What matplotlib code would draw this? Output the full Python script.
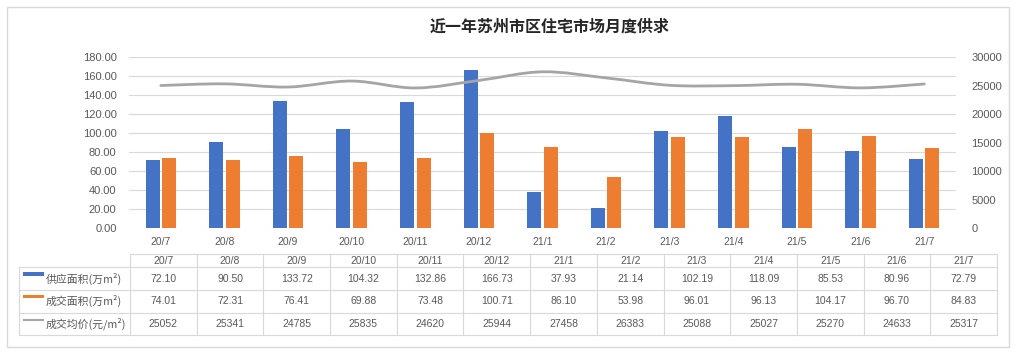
import matplotlib
matplotlib.use("Agg")
import matplotlib.pyplot as plt
import numpy as np
from matplotlib.path import Path
from matplotlib.patches import PathPatch, Rectangle
from matplotlib.ticker import FuncFormatter

plt.rcParams['font.family'] = ['Noto Sans CJK SC', 'DejaVu Sans']

# ---------------- data ----------------
months = ["20/7", "20/8", "20/9", "20/10", "20/11", "20/12",
          "21/1", "21/2", "21/3", "21/4", "21/5", "21/6", "21/7"]
supply = [72.10, 90.50, 133.72, 104.32, 132.86, 166.73,
          37.93, 21.14, 102.19, 118.09, 85.53, 80.96, 72.79]
deal = [74.01, 72.31, 76.41, 69.88, 73.48, 100.71,
        86.10, 53.98, 96.01, 96.13, 104.17, 96.70, 84.83]
price = [25052, 25341, 24785, 25835, 24620, 25944,
         27458, 26383, 25088, 25027, 25270, 24633, 25317]
series_names = ["供应面积(万m²)", "成交面积(万m²)", "成交均价(元/m²)"]
title = "近一年苏州市区住宅市场月度供求"

BLUE = "#4472C4"
ORANGE = "#ED7D31"
GRAY = "#A5A5A5"
TXT = "#595959"
GRID = "#D9D9D9"
NUMFONT = ['Liberation Sans', 'DejaVu Sans']
CJKFONT = ['Noto Sans CJK SC', 'DejaVu Sans']

W, H = 1017, 352
fig = plt.figure(figsize=(W / 100, H / 100), dpi=100)

# overlay axes in pixel coordinates for border / table / title
ov = fig.add_axes([0, 0, 1, 1], zorder=0)
ov.set_xlim(0, W)
ov.set_ylim(H, 0)
ov.axis("off")
ov.add_patch(Rectangle((7, 7), 1002, 340, fill=False, edgecolor=GRID, lw=1.0))

def px_axes(l, r, t, b):
    return [l / W, (H - b) / H, (r - l) / W, (b - t) / H]

# ---------------- main chart ----------------
ax = fig.add_axes(px_axes(129, 956, 57.3, 228.3), zorder=1)
ax.patch.set_alpha(0)
x = np.arange(len(months))
bw = 0.22
off = 0.13
ax.bar(x - off, supply, width=bw, color=BLUE, zorder=2)
ax.bar(x + off, deal, width=bw, color=ORANGE, zorder=2)
ax.set_xlim(-0.5, len(months) - 0.5)
ax.set_ylim(0, 180)
ax.set_yticks(np.arange(0, 181, 20))
ax.yaxis.set_major_formatter(FuncFormatter(lambda v, p: f"{v:.2f}"))
ax.set_xticks(x)
ax.set_xticklabels(months)
ax.grid(axis="y", color=GRID, lw=0.8, zorder=0)
ax.set_axisbelow(True)
for s in ax.spines.values():
    s.set_visible(False)
ax.tick_params(axis="both", length=0, colors=TXT)
ax.tick_params(axis="y", pad=9, labelsize=8)
ax.tick_params(axis="x", pad=6, labelsize=7.5)
for lab in ax.get_yticklabels() + ax.get_xticklabels():
    lab.set_family(NUMFONT)

ax2 = ax.twinx()
ax2.set_ylim(0, 30000)
ax2.set_yticks(np.arange(0, 30001, 5000))
for s in ax2.spines.values():
    s.set_visible(False)
ax2.tick_params(axis="y", length=0, colors=TXT, pad=11, labelsize=8)
for lab in ax2.get_yticklabels():
    lab.set_family(NUMFONT)

# smoothed line (Catmull-Rom as cubic Bezier through the data points)
pts = np.column_stack([x, price]).astype(float)
n = len(pts)
verts = [pts[0]]
codes = [Path.MOVETO]
for i in range(n - 1):
    p0 = pts[i - 1] if i > 0 else pts[i]
    p1 = pts[i]
    p2 = pts[i + 1]
    p3 = pts[i + 2] if i + 2 < n else pts[i + 1]
    c1 = p1 + (p2 - p0) / 6.0
    c2 = p2 - (p3 - p1) / 6.0
    verts += [c1, c2, p2]
    codes += [Path.CURVE4] * 3
ax2.add_patch(PathPatch(Path(verts, codes), fill=False, edgecolor=GRAY,
                        lw=2.0, capstyle="round", zorder=3))

# ---------------- title ----------------
fig.text(549.5 / W, 1 - 27 / H, title, ha="center", va="center",
         fontsize=11.5, fontweight="bold", color="#262626", family=CJKFONT)

# ---------------- data table ----------------
tl, tr = 130, 997
lab_l = 19
cw = (tr - tl) / len(months)
rows_y = [254, 267, 290, 312.7, 335]
lc = dict(color=GRID, lw=0.8)
ov.plot([tl, tr], [rows_y[0], rows_y[0]], **lc)
for yy in rows_y[1:]:
    ov.plot([lab_l, tr], [yy, yy], **lc)
ov.plot([lab_l, lab_l], [rows_y[1], rows_y[-1]], **lc)
for i in range(len(months) + 1):
    xx = tl + i * cw
    ov.plot([xx, xx], [rows_y[0], rows_y[-1]], **lc)

row_vals = [[f"{v:.2f}" for v in supply],
            [f"{v:.2f}" for v in deal],
            [f"{v:d}" for v in price]]
for i, m in enumerate(months):
    cx = tl + (i + 0.5) * cw
    ov.text(cx, (rows_y[0] + rows_y[1]) / 2, m, ha="center", va="center",
            fontsize=7.5, color=TXT, family=NUMFONT)
    for r in range(3):
        cy = (rows_y[r + 1] + rows_y[r + 2]) / 2
        ov.text(cx, cy, row_vals[r][i], ha="center", va="center",
                fontsize=7.5, color=TXT, family=NUMFONT)

# row labels with legend keys
for r, name in enumerate(series_names):
    cy = (rows_y[r + 1] + rows_y[r + 2]) / 2
    if r < 2:
        ov.add_patch(Rectangle((23, cy - 6.5), 21, 3.5,
                               color=[BLUE, ORANGE][r], lw=0))
    else:
        ov.plot([23, 44], [cy - 3.5, cy - 3.5], color=GRAY, lw=1.5,
                solid_capstyle="butt")
    ov.text(46, cy, name, ha="left", va="center", fontsize=7.8,
            color=TXT, family=CJKFONT)

fig.savefig("out.png", dpi=100, facecolor="white")
